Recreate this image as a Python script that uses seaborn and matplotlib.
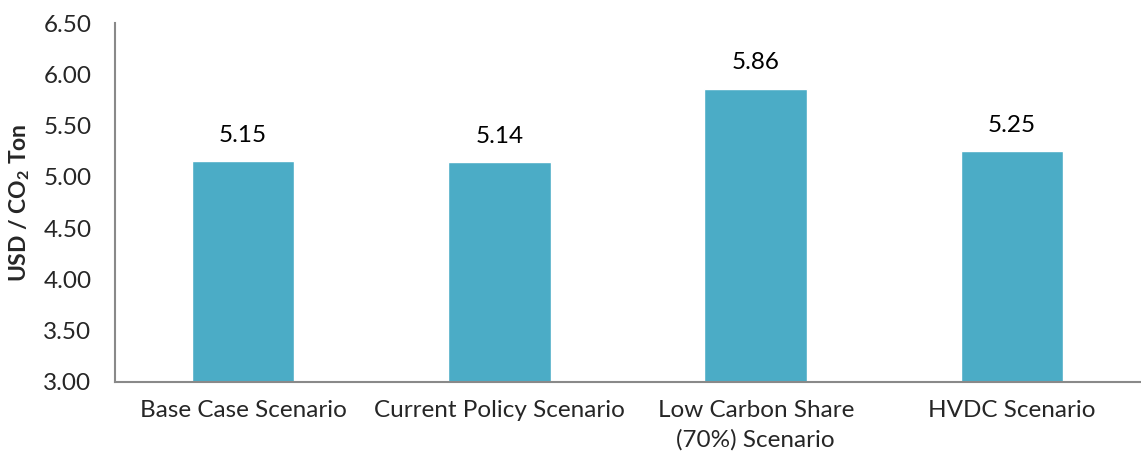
import matplotlib
matplotlib.use("Agg")
import matplotlib.pyplot as plt
import seaborn as sns
import pandas as pd

# values
scenarios = ["Base Case Scenario", "Current Policy Scenario",
             "Low Carbon Share\n(70%) Scenario", "HVDC Scenario"]
cost = [5.15, 5.14, 5.86, 5.25]
y_ticks = [3.00, 3.50, 4.00, 4.50, 5.00, 5.50, 6.00, 6.50]

sns.set_style("white")
plt.rcParams['font.family'] = ['Lato', 'DejaVu Sans']
plt.rcParams['mathtext.fontset'] = 'custom'
plt.rcParams['mathtext.rm'] = 'Lato'
plt.rcParams['mathtext.bf'] = 'Lato:bold'

df = pd.DataFrame({'scenario': scenarios, 'cost': cost})

fig = plt.figure(figsize=(11.41, 4.62), dpi=100)
ax = fig.add_axes([0.1008, 0.1732, 0.8985, 0.7770])

sns.barplot(data=df, x='scenario', y='cost', color='#4BACC6', saturation=1,
            width=0.4, ax=ax)

ax.bar_label(ax.containers[0], fmt='%.2f', padding=11, fontsize=17.5, color='#000000')

ax.set_ylim(3.0, 6.5)
ax.set_xlim(-0.5, len(scenarios) - 0.5)
ax.set_yticks(y_ticks)
ax.set_yticklabels([f"{t:.2f}" for t in y_ticks], fontsize=17.5)
ax.set_xticks(range(len(scenarios)))
ax.set_xticklabels(scenarios, fontsize=17.5, linespacing=1.45)
ax.set_xticks([i - 0.5 for i in range(len(scenarios) + 1)], minor=True)
ax.tick_params(axis='x', which='major', length=0, pad=13)
ax.tick_params(axis='x', which='minor', length=7, width=1.5, color='#898989', direction='out')
ax.tick_params(axis='y', length=7, width=1.5, color='#898989', direction='out', pad=10)

ax.set_xlabel('')
ax.set_ylabel(r'USD / CO$_\mathbf{2}$ Ton', fontsize=16.5, fontweight='bold', labelpad=8)

for side in ['top', 'right']:
    ax.spines[side].set_visible(False)
for side in ['left', 'bottom']:
    ax.spines[side].set_color('#898989')
    ax.spines[side].set_linewidth(1.5)

fig.savefig('out.png', dpi=100)
